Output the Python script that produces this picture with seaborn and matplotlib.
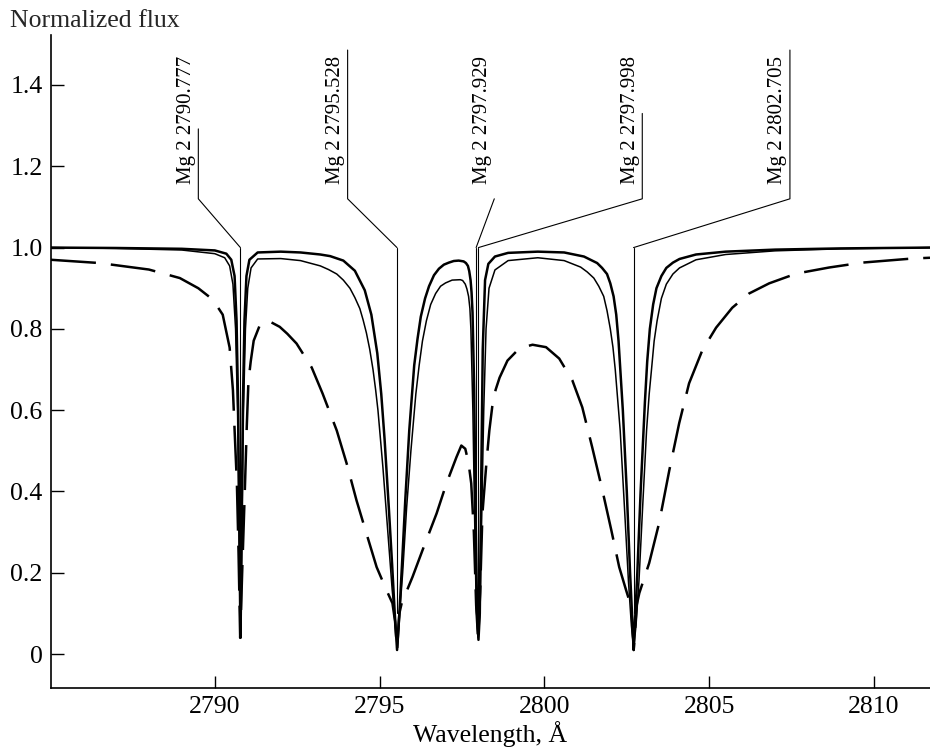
import matplotlib
matplotlib.use("Agg")
import matplotlib.pyplot as plt
import seaborn as sns
import pandas as pd

# ---------------- data ----------------
thick_wl = [2785.03, 2787.0, 2789.0, 2790.0, 2790.35, 2790.5, 2790.6, 2790.66, 2790.71, 2790.75,
            2790.78, 2790.81, 2790.85, 2790.9, 2790.96, 2791.05, 2791.3, 2792.0, 2792.6, 2793.2,
            2793.5, 2793.9, 2794.25, 2794.55, 2794.75, 2794.93, 2795.05, 2795.15, 2795.28, 2795.38,
            2795.46, 2795.53, 2795.6, 2795.68, 2795.78, 2795.9, 2796.05, 2796.15, 2796.25, 2796.38,
            2796.5, 2796.65, 2796.8, 2796.95, 2797.1, 2797.25, 2797.4, 2797.55, 2797.62, 2797.68,
            2797.72, 2797.76, 2797.79, 2797.82, 2797.87, 2797.92, 2797.96, 2798.0, 2798.04, 2798.08,
            2798.13, 2798.2, 2798.3, 2798.5, 2798.9, 2799.8, 2800.6, 2801.2, 2801.6, 2801.75,
            2801.9, 2802.0, 2802.1, 2802.18, 2802.25, 2802.38, 2802.5, 2802.6, 2802.67, 2802.71,
            2802.75, 2802.82, 2802.92, 2803.05, 2803.12, 2803.2, 2803.3, 2803.4, 2803.55, 2803.7,
            2803.9, 2804.1, 2804.6, 2805.5, 2807.0, 2809.0, 2811.7]
thick_flux = [1.0, 0.999, 0.997, 0.993, 0.985, 0.97, 0.93, 0.82, 0.6, 0.25,
              0.04, 0.25, 0.6, 0.82, 0.93, 0.97, 0.988, 0.99, 0.988, 0.983,
              0.979, 0.968, 0.943, 0.895, 0.835, 0.74, 0.64, 0.53, 0.36, 0.22,
              0.1, 0.01, 0.1, 0.22, 0.38, 0.55, 0.71, 0.775, 0.83, 0.875,
              0.905, 0.932, 0.948, 0.958, 0.963, 0.967, 0.968, 0.966, 0.962, 0.955,
              0.942, 0.92, 0.89, 0.84, 0.65, 0.3, 0.1, 0.035, 0.1, 0.4,
              0.75, 0.92, 0.96, 0.978, 0.987, 0.99, 0.988, 0.978, 0.962, 0.95,
              0.935, 0.912, 0.88, 0.835, 0.77, 0.6, 0.4, 0.2, 0.08, 0.01,
              0.08, 0.2, 0.4, 0.62, 0.72, 0.8, 0.86, 0.9, 0.93, 0.95,
              0.963, 0.972, 0.983, 0.99, 0.995, 0.998, 1.0]

thin_wl = [2785.03, 2787.0, 2789.0, 2790.0, 2790.3, 2790.45, 2790.55, 2790.63, 2790.69, 2790.74,
           2790.78, 2790.82, 2790.87, 2790.93, 2791.0, 2791.1, 2791.3, 2792.0, 2792.6, 2793.2,
           2793.45, 2793.7, 2793.9, 2794.1, 2794.25, 2794.4, 2794.5, 2794.6, 2794.7, 2794.8,
           2794.88, 2794.95, 2795.1, 2795.25, 2795.38, 2795.47, 2795.53, 2795.59, 2795.7, 2795.82,
           2795.95, 2796.1, 2796.2, 2796.3, 2796.42, 2796.55, 2796.7, 2796.85, 2797.0, 2797.2,
           2797.45, 2797.52, 2797.6, 2797.65, 2797.7, 2797.74, 2797.77, 2797.83, 2797.88, 2797.93,
           2797.99, 2798.05, 2798.1, 2798.16, 2798.23, 2798.32, 2798.5, 2798.9, 2799.8, 2800.6,
           2801.1, 2801.3, 2801.5, 2801.65, 2801.8, 2801.9, 2802.0, 2802.08, 2802.15, 2802.3,
           2802.43, 2802.55, 2802.64, 2802.71, 2802.78, 2802.87, 2802.98, 2803.1, 2803.18, 2803.25,
           2803.33, 2803.42, 2803.55, 2803.7, 2803.9, 2804.1, 2804.6, 2805.5, 2807.0, 2809.0,
           2811.7]
thin_flux = [1.0, 0.998, 0.994, 0.985, 0.975, 0.955, 0.91, 0.8, 0.6, 0.3,
             0.06, 0.3, 0.6, 0.8, 0.9, 0.95, 0.972, 0.973, 0.968, 0.955,
             0.946, 0.935, 0.92, 0.9, 0.877, 0.85, 0.822, 0.79, 0.75, 0.7,
             0.65, 0.6, 0.46, 0.3, 0.16, 0.08, 0.02, 0.08, 0.2, 0.36,
             0.5, 0.64, 0.71, 0.77, 0.82, 0.86, 0.887, 0.905, 0.913, 0.92,
             0.921, 0.919, 0.91, 0.898, 0.88, 0.85, 0.8, 0.6, 0.35, 0.12,
             0.04, 0.12, 0.35, 0.6, 0.8, 0.9, 0.945, 0.968, 0.975, 0.968,
             0.952, 0.94, 0.925, 0.905, 0.88, 0.845, 0.8, 0.755, 0.7, 0.55,
             0.36, 0.18, 0.07, 0.015, 0.07, 0.18, 0.36, 0.55, 0.64, 0.7,
             0.77, 0.82, 0.875, 0.91, 0.935, 0.95, 0.97, 0.983, 0.992, 0.997,
             1.0]

dash_wl = [2785.03, 2786.5, 2788.0, 2788.94, 2789.5, 2789.94, 2790.24, 2790.45, 2790.55, 2790.61,
           2790.67, 2790.72, 2790.77, 2790.83, 2790.91, 2790.97, 2791.02, 2791.09, 2791.18, 2791.36,
           2791.6, 2791.97, 2792.2, 2792.48, 2792.94, 2793.27, 2793.7, 2794.0, 2794.3, 2794.6,
           2794.91, 2795.21, 2795.39, 2795.47, 2795.53, 2795.6, 2795.67, 2796.0, 2796.3, 2796.73,
           2797.03, 2797.33, 2797.48, 2797.6, 2797.7, 2797.78, 2797.86, 2797.93, 2797.99, 2798.05,
           2798.12, 2798.24, 2798.33, 2798.42, 2798.52, 2798.64, 2798.88, 2799.24, 2799.64, 2800.05,
           2800.45, 2800.85, 2801.15, 2801.45, 2801.76, 2802.03, 2802.27, 2802.48, 2802.64, 2802.71,
           2802.8, 2802.88, 2803.18, 2803.48, 2803.79, 2804.09, 2804.39, 2804.79, 2805.21, 2805.7,
           2806.21, 2806.82, 2807.64, 2808.64, 2809.64, 2811.15, 2811.7]
dash_flux = [0.970, 0.962, 0.946, 0.925, 0.9, 0.872, 0.835, 0.754, 0.649, 0.533,
             0.42, 0.25, 0.04, 0.2, 0.4, 0.56, 0.67, 0.72, 0.771, 0.808,
             0.821, 0.805, 0.788, 0.764, 0.705, 0.641, 0.55, 0.469, 0.378, 0.297,
             0.214, 0.157, 0.125, 0.08, 0.01, 0.1, 0.125, 0.19, 0.255, 0.346,
             0.42, 0.484, 0.513, 0.505, 0.47, 0.42, 0.3, 0.12, 0.035, 0.15,
             0.346, 0.469, 0.55, 0.61, 0.65, 0.68, 0.722, 0.752, 0.761, 0.755,
             0.727, 0.673, 0.607, 0.509, 0.403, 0.305, 0.214, 0.157, 0.115, 0.01,
             0.12, 0.15, 0.224, 0.322, 0.452, 0.568, 0.666, 0.747, 0.803, 0.852,
             0.887, 0.912, 0.936, 0.951, 0.963, 0.973, 0.975]

line_names = ["Mg 2 2790.777", "Mg 2 2795.528", "Mg 2 2797.929", "Mg 2 2797.998", "Mg 2 2802.705"]
line_wl = [2790.777, 2795.528, 2797.929, 2797.998, 2802.705]
label_wl = [2789.50, 2794.03, 2798.48, 2802.97, 2807.45]   # elbow / label anchor
label_top = [1.292, 1.486, 1.12, 1.33, 1.486]               # top of vertical leader

x_ticks = [2790, 2795, 2800, 2805, 2810]
y_ticks = [0, 0.2, 0.4, 0.6, 0.8, 1.0, 1.2, 1.4]
y_ticklabels = ["0", "0.2", "0.4", "0.6", "0.8", "1.0", "1.2", "1.4"]

# ---------------- figure ----------------
sns.set_theme(style="ticks")
plt.rcParams["font.family"] = ["Liberation Serif", "DejaVu Serif"]

fig = plt.figure(figsize=(9.30, 7.49), dpi=100)
ax = fig.add_axes([51 / 930, 61 / 749, 879 / 930, 653 / 749])

# marker lines and leaders
for lw_, lx, top in zip(line_wl, label_wl, label_top):
    ax.plot([lw_, lw_], [0.10, 1.0], color="black", lw=0.8, zorder=1)
    ax.plot([lw_, lx, lx], [1.0, 1.12, top], color="black", lw=0.8, zorder=1)

df_thick = pd.DataFrame({"wl": thick_wl, "flux": thick_flux})
df_thin = pd.DataFrame({"wl": thin_wl, "flux": thin_flux})
df_dash = pd.DataFrame({"wl": dash_wl, "flux": dash_flux})

sns.lineplot(data=df_thin, x="wl", y="flux", ax=ax, color="black", lw=1.1, zorder=3)
sns.lineplot(data=df_thick, x="wl", y="flux", ax=ax, color="black", lw=1.8, zorder=4)
sns.lineplot(data=df_dash, x="wl", y="flux", ax=ax, color="black", lw=1.8,
             linestyle=(0, (18, 6)), zorder=2)

for name, lx in zip(line_names, label_wl):
    ax.text(lx - 0.08, 1.157, name, rotation=90, ha="right", va="bottom",
            fontsize=15, color="black")

ax.set_xlim(2785.03, 2811.7)
ax.set_ylim(-0.0835, 1.523)
ax.set_xticks(x_ticks)
ax.set_xticklabels([str(t) for t in x_ticks])
ax.set_yticks(y_ticks)
ax.set_yticklabels(y_ticklabels)
ax.tick_params(direction="in", length=9, width=1.0, labelsize=18.5, pad=6, colors="black")
for s in ["top", "right"]:
    ax.spines[s].set_visible(False)
for s in ["left", "bottom"]:
    ax.spines[s].set_linewidth(1.2)
    ax.spines[s].set_color("black")

ax.set_xlabel("Wavelength, Å", fontsize=18.5, labelpad=2, color="black")
ax.set_ylabel("")
fig.text(10 / 930, 1 - 27 / 749, "Normalized flux", fontsize=18.5, ha="left", va="baseline")

fig.savefig("out.png", dpi=100)
